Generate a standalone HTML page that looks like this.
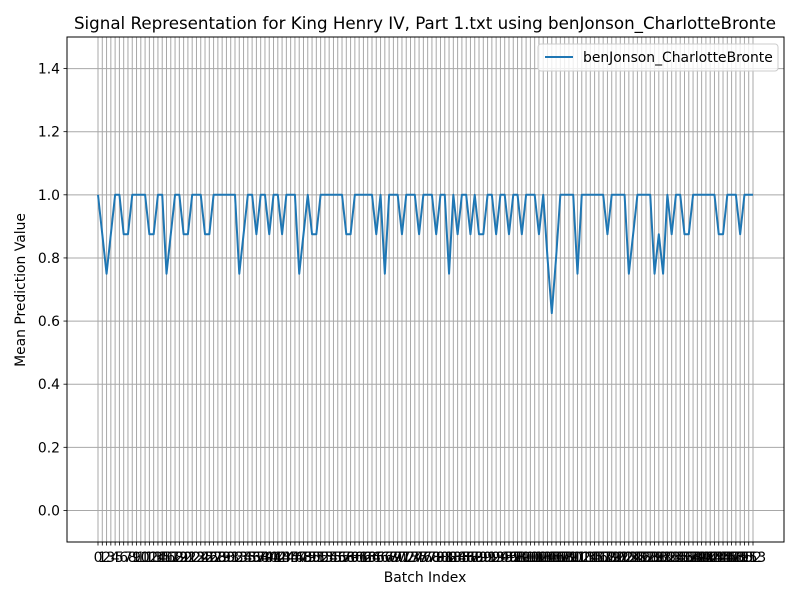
<!DOCTYPE html>
<html><head><meta charset="utf-8"><style>
html,body{margin:0;padding:0;background:#fff;}
svg{display:block;font-family:"DejaVu Sans","Liberation Sans",sans-serif;}
</style></head><body>
<svg id="chart" width="800" height="600" viewBox="0 0 800 600">
<rect x="0" y="0" width="800" height="600" fill="#fff"/>
<text x="425" y="29" text-anchor="middle" font-size="16.7" fill="#000">Signal Representation for King Henry IV, Part 1.txt using benJonson_CharlotteBronte</text>
<g id="grid"></g>
<g id="yticks"></g>
<g id="xticks"></g>
<path id="series" fill="none" stroke="#1f77b4" stroke-width="2" stroke-linejoin="round"/>
<rect x="67" y="37" width="717" height="505" fill="none" stroke="#000" stroke-width="1"/>
<text x="425" y="582" text-anchor="middle" font-size="13.9">Batch Index</text>
<text transform="translate(25,290) rotate(-90)" text-anchor="middle" font-size="13.9">Mean Prediction Value</text>
<g>
<rect x="538" y="44" width="240" height="27" rx="3" fill="#fff" fill-opacity="0.8" stroke="#ccc"/>
<line x1="545" y1="57" x2="573" y2="57" stroke="#1f77b4" stroke-width="2"/>
<text x="583" y="62" font-size="13.9">benJonson_CharlotteBronte</text>
</g>
</svg>
<script>
const values = [1,0.875,0.75,0.875,1,1,0.875,0.875,1,1,1,1,0.875,0.875,1,1,0.75,0.875,1,1,0.875,0.875,1,1,1,0.875,0.875,1,1,1,1,1,1,0.75,0.875,1,1,0.875,1,1,0.875,1,1,0.875,1,1,1,0.75,0.875,1,0.875,0.875,1,1,1,1,1,1,0.875,0.875,1,1,1,1,1,0.875,1,0.75,1,1,1,0.875,1,1,1,0.875,1,1,1,0.875,1,1,0.75,1,0.875,1,1,0.875,1,0.875,0.875,1,1,0.875,1,1,0.875,1,1,0.875,1,1,1,0.875,1,0.8,0.625,0.8,1,1,1,1,0.75,1,1,1,1,1,1,0.875,1,1,1,1,0.75,0.875,1,1,1,1,0.75,0.875,0.75,1,0.875,1,1,0.875,0.875,1,1,1,1,1,1,0.875,0.875,1,1,1,0.875,1,1,1];
const yTicks = [0.0,0.2,0.4,0.6,0.8,1.0,1.2,1.4];
const NS='http://www.w3.org/2000/svg';
const L=67,R=784,T=37,B=542,YMIN=-0.1,YMAX=1.5;
const n=values.length;
const x0=98,x1=753;
function xs(i){return x0+(x1-x0)*i/(n-1);}
function ys(v){return B-(v-YMIN)/(YMAX-YMIN)*(B-T);}
const grid=document.getElementById('grid'),xt=document.getElementById('xticks'),yt=document.getElementById('yticks');
function mk(tag,attrs,parent){const e=document.createElementNS(NS,tag);for(const k in attrs)e.setAttribute(k,attrs[k]);parent.appendChild(e);return e;}
for(let i=0;i<n;i++){
  const x=xs(i);
  const g=mk('line',{x1:x,x2:x,y1:T,y2:B,stroke:'#a8a8a8','stroke-width':1},grid);
  
  
  const tk=mk('line',{x1:x,x2:x,y1:B,y2:B+3.5,stroke:'#000','stroke-width':0.8},xt);
  
  
  const t=mk('text',{x:x,y:B+20,'text-anchor':'middle','font-size':13.9},xt);
  t.textContent=String(i);
  
  
}
yTicks.forEach(v=>{
  const y=ys(v);
  const g=mk('line',{x1:L,x2:R,y1:y,y2:y,stroke:'#a8a8a8','stroke-width':1},grid);
  
  
  const tk=mk('line',{x1:L-3.5,x2:L,y1:y,y2:y,stroke:'#000','stroke-width':0.8},yt);
  
  
  const t=mk('text',{x:L-7,y:y+5,'text-anchor':'end','font-size':13.9},yt);
  t.textContent=v.toFixed(1);
  
  
});
document.getElementById('series').setAttribute('d',values.map((v,i)=>(i?'L':'M')+xs(i).toFixed(2)+','+ys(v).toFixed(2)).join(''));
</script>
</body></html>
